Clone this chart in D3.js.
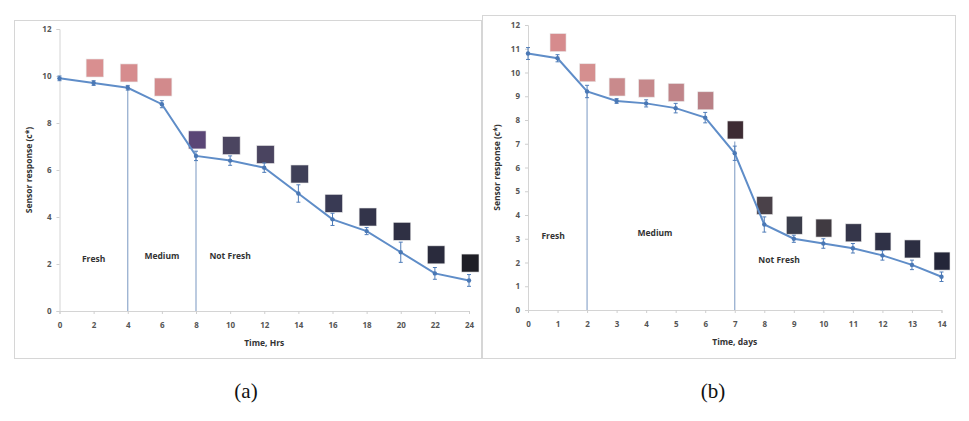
<!DOCTYPE html>
<html>
<head>
<meta charset="utf-8">
<script src="https://cdn.jsdelivr.net/npm/d3@7"></script>
<style>
  body { margin: 0; background: #fff; }
  svg { display: block; }
  .tick text { font-family: "Open Sans", sans-serif; font-size: 8px; font-weight: bold; fill: #555; }
  .tick line { stroke: #cfcfcf; }
  .domain { stroke: #d4d4d4; }
</style>
</head>
<body>
<svg id="chart" width="969" height="421"></svg>
<script>
// panel (a): hours
var hoursA = [0, 2, 4, 6, 8, 10, 12, 14, 16, 18, 20, 22, 24];
var responseA = [9.9, 9.7, 9.5, 8.8, 6.6, 6.4, 6.1, 5.0, 3.9, 3.4, 2.5, 1.6, 1.3];
var errA = [0.1, 0.1, 0.1, 0.15, 0.2, 0.2, 0.2, 0.37, 0.26, 0.15, 0.43, 0.25, 0.25];
var swatchXA = [2, 4, 6, 8, 10, 12, 14, 16, 18, 20, 22, 24];
var swatchLevelA = [10.34, 10.13, 9.53, 7.28, 7.04, 6.66, 5.83, 4.58, 4.0, 3.39, 2.39, 2.04];
var swatchColorA = ["#d98f90", "#d68c8e", "#d28a8c", "#5a4676", "#4b4560", "#4a4460", "#3f4058",
                    "#393a54", "#33344a", "#2f3044", "#2a2b3d", "#1f1f26"];
var dividersA = [[4, 9.5], [8, 6.6]];
var zonesA = [["Fresh", 2, 2.1], ["Medium", 6, 2.2], ["Not Fresh", 10, 2.2]];
var yTicksA = [0, 2, 4, 6, 8, 10, 12];

// panel (b): days
var daysB = [0, 1, 2, 3, 4, 5, 6, 7, 8, 9, 10, 11, 12, 13, 14];
var responseB = [10.8, 10.6, 9.2, 8.8, 8.7, 8.5, 8.1, 6.6, 3.6, 3.0, 2.8, 2.6, 2.3, 1.9, 1.4];
var errB = [0.25, 0.15, 0.26, 0.1, 0.15, 0.2, 0.22, 0.3, 0.32, 0.15, 0.2, 0.2, 0.2, 0.2, 0.2];
var swatchXB = [1, 2, 3, 4, 5, 6, 7, 8, 9, 10, 11, 12, 13, 14];
var swatchLevelB = [11.26, 9.99, 9.39, 9.34, 9.16, 8.81, 7.58, 4.4, 3.57, 3.45, 3.25, 2.88, 2.57, 2.06];
var swatchColorB = ["#d68b8d", "#d58f8f", "#c98a8c", "#c6888b", "#c08489", "#b98086", "#3d2b33",
                    "#4a4149", "#3b3d4b", "#403a41", "#35364a", "#2f3146", "#2c2e42", "#242639"];
var dividersB = [[2, 9.2], [7, 7.1]];
var zonesB = [["Fresh", 0.85, 3.0], ["Medium", 4.3, 3.1], ["Not Fresh", 8.5, 2.0]];
var yTicksB = [0, 1, 2, 3, 4, 5, 6, 7, 8, 9, 10, 11, 12];

var svg = d3.select("#chart");
var lineColor = "#5f8dc8";

function drawPanel(p) {
    var g = svg.append("g");

    // frame
    g.append("rect").attr("x", p.box[0] + 0.5).attr("y", p.box[1] + 0.5)
        .attr("width", p.box[2]).attr("height", p.box[3])
        .attr("fill", "none").attr("stroke", "#d6d6d6");

    var x = d3.scaleLinear().domain(p.xDomain).range(p.xRange);
    var y = d3.scaleLinear().domain([0, 12]).range(p.yRange);

    g.append("g")
        .attr("transform", "translate(0," + p.yRange[0] + ")")
        .call(d3.axisBottom(x).tickValues(p.xs).tickSize(3).tickPadding(8));
    g.append("g")
        .attr("transform", "translate(" + p.xRange[0] + ",0)")
        .call(d3.axisLeft(y).tickValues(p.yTicks).tickSize(3).tickPadding(5));

    // stage dividers
    g.selectAll(".divider").data(p.dividers).enter().append("line")
        .attr("x1", d => x(d[0])).attr("x2", d => x(d[0]))
        .attr("y1", y(0)).attr("y2", d => y(d[1]))
        .attr("stroke", "#8fa8cc").attr("stroke-width", 1.2);

    // zone labels
    g.selectAll(".zone").data(p.zones).enter().append("text")
        .attr("x", d => x(d[1])).attr("y", d => y(d[2]))
        .attr("text-anchor", "middle")
        .style("font-family", "Open Sans, sans-serif").style("font-size", "8.5px")
        .style("font-weight", "bold").style("fill", "#333")
        .text(d => d[0]);

    // colour swatches
    g.selectAll(".swatch").data(p.swatchX).enter().append("rect")
        .attr("x", (d, i) => x(d) - 8.5 + p.swatchShift)
        .attr("y", (d, i) => y(p.swatchLevel[i]) - 9)
        .attr("width", p.swatchW).attr("height", 18)
        .attr("fill", (d, i) => p.swatchColor[i])
        .attr("stroke", "#e8e8e8").attr("stroke-width", 0.6);

    // error bars
    var eb = g.selectAll(".err").data(p.xs).enter().append("g")
        .attr("stroke", "#4f7cb8").attr("stroke-width", 1);
    eb.append("line")
        .attr("x1", d => x(d)).attr("x2", d => x(d))
        .attr("y1", (d, i) => y(p.values[i] - p.err[i]))
        .attr("y2", (d, i) => y(p.values[i] + p.err[i]));
    eb.append("line")
        .attr("x1", d => x(d) - 2).attr("x2", d => x(d) + 2)
        .attr("y1", (d, i) => y(p.values[i] - p.err[i]))
        .attr("y2", (d, i) => y(p.values[i] - p.err[i]));
    eb.append("line")
        .attr("x1", d => x(d) - 2).attr("x2", d => x(d) + 2)
        .attr("y1", (d, i) => y(p.values[i] + p.err[i]))
        .attr("y2", (d, i) => y(p.values[i] + p.err[i]));

    // series line
    var line = d3.line().x(d => x(d[0])).y(d => y(d[1]));
    g.append("path")
        .datum(p.xs.map((d, i) => [d, p.values[i]]))
        .attr("d", line).attr("fill", "none")
        .attr("stroke", lineColor).attr("stroke-width", 2);

    g.selectAll(".pt").data(p.xs).enter().append("circle")
        .attr("cx", d => x(d)).attr("cy", (d, i) => y(p.values[i]))
        .attr("r", 2.2).attr("fill", "#4a78b5");

    // axis titles
    g.append("text")
        .attr("x", (p.xRange[0] + p.xRange[1]) / 2).attr("y", p.yRange[0] + 35)
        .attr("text-anchor", "middle")
        .style("font-family", "Open Sans, sans-serif").style("font-size", "8.5px")
        .style("font-weight", "bold").style("fill", "#333")
        .text(p.xTitle);
    g.append("text")
        .attr("transform", "translate(" + p.yTitleX + "," + ((p.yRange[0] + p.yRange[1]) / 2) + ") rotate(-90)")
        .attr("text-anchor", "middle")
        .style("font-family", "Open Sans, sans-serif").style("font-size", "8.5px")
        .style("font-weight", "bold").style("fill", "#333")
        .text("Sensor response (c*)");

    // caption
    svg.append("text")
        .attr("x", p.captionX).attr("y", 398)
        .attr("text-anchor", "middle")
        .style("font-family", "Liberation Serif, serif").style("font-size", "21px")
        .style("fill", "#111")
        .text(p.caption);
}

drawPanel({
    box: [14, 20, 467, 338],
    xDomain: [0, 24], xRange: [59.5, 469],
    yRange: [311, 29],
    xs: hoursA, values: responseA, err: errA, yTicks: yTicksA,
    swatchX: swatchXA, swatchLevel: swatchLevelA, swatchColor: swatchColorA,
    swatchW: 17.5, swatchShift: 1,
    dividers: dividersA, zones: zonesA,
    xTitle: "Time, Hrs", yTitleX: 32,
    caption: "(a)", captionX: 246
});

drawPanel({
    box: [482, 15, 473, 343],
    xDomain: [0, 14], xRange: [528, 941.5],
    yRange: [310, 25],
    xs: daysB, values: responseB, err: errB, yTicks: yTicksB,
    swatchX: swatchXB, swatchLevel: swatchLevelB, swatchColor: swatchColorB,
    swatchW: 16, swatchShift: 1,
    dividers: dividersB, zones: zonesB,
    xTitle: "Time, days", yTitleX: 500,
    caption: "(b)", captionX: 713
});
</script>
</body>
</html>
